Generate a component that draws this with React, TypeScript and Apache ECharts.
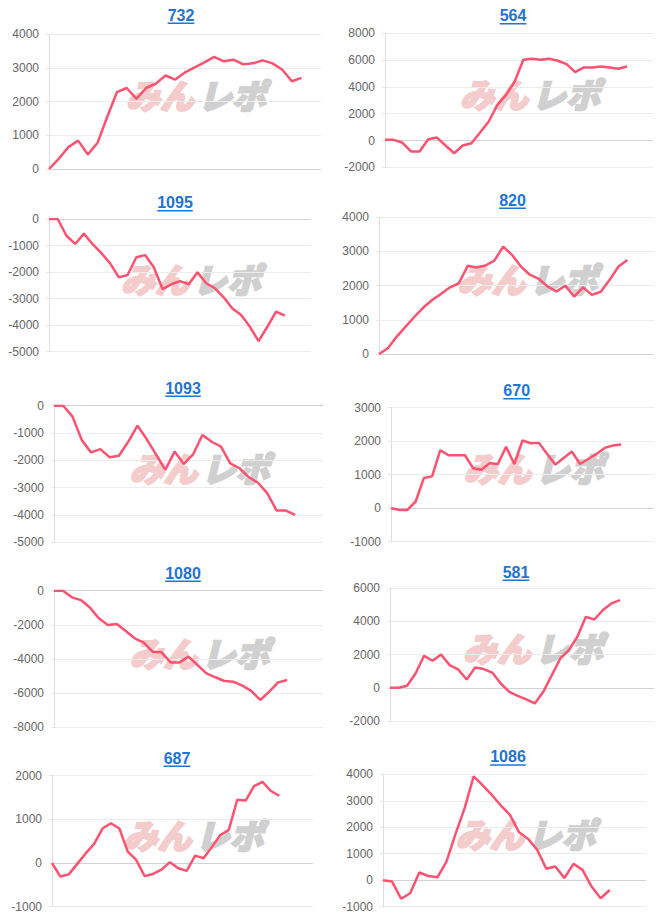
import React, { useEffect, useRef } from "react";
import * as echarts from "echarts";

// ---- data ----
const titles = ["732", "564", "1095", "820", "1093", "670", "1080", "581", "687", "1086"];
const categoryCounts = [29, 32, 31, 32, 30, 33, 31, 32, 32, 30];

const s732 = [0, 300, 650, 840, 430, 780, 1550, 2280, 2400, 2080, 2400, 2530, 2770, 2650, 2860, 3010, 3160, 3320, 3190, 3240, 3100, 3130, 3220, 3130, 2950, 2600, 2700];
const s564 = [50, 50, -150, -820, -820, 100, 220, -370, -950, -370, -200, 600, 1420, 2660, 3400, 4400, 6020, 6100, 6020, 6100, 5950, 5700, 5100, 5450, 5450, 5520, 5450, 5350, 5520];
const s1095 = [0, 0, -630, -940, -550, -950, -1290, -1670, -2200, -2110, -1440, -1360, -1820, -2640, -2460, -2340, -2460, -2010, -2420, -2610, -2950, -3370, -3620, -4060, -4600, -4060, -3490, -3640];
const s820 = [0, 170, 510, 800, 1090, 1360, 1580, 1760, 1950, 2070, 2580, 2530, 2590, 2730, 3140, 2900, 2560, 2320, 2200, 1980, 1830, 2000, 1680, 1950, 1730, 1820, 2170, 2560, 2750];
const s1093 = [0, 0, -400, -1260, -1710, -1590, -1890, -1830, -1320, -730, -1230, -1780, -2350, -1680, -2130, -1780, -1070, -1320, -1500, -2110, -2290, -2620, -2820, -3210, -3840, -3840, -4000];
const s670 = [0, -50, -50, 200, 900, 950, 1730, 1580, 1580, 1580, 1190, 1150, 1340, 1320, 1830, 1320, 2020, 1940, 1950, 1620, 1300, 1500, 1690, 1320, 1470, 1620, 1800, 1870, 1900];
const s1080 = [0, 0, -390, -550, -980, -1620, -2010, -1950, -2360, -2790, -3040, -3570, -3610, -4200, -4200, -3860, -4350, -4840, -5070, -5290, -5330, -5560, -5870, -6400, -5910, -5370, -5230];
const s581 = [0, 0, 120, 860, 1930, 1630, 2010, 1370, 1110, 500, 1230, 1130, 920, 260, -240, -480, -700, -940, -240, 760, 1770, 2270, 3080, 4280, 4120, 4690, 5090, 5290];
const s687 = [0, -310, -260, -20, 220, 440, 790, 910, 790, 260, 70, -300, -250, -150, 20, -120, -180, 170, 110, 370, 640, 760, 1450, 1430, 1760, 1860, 1650, 1540];
const s1086 = [0, -50, -700, -490, 290, 160, 110, 700, 1750, 2720, 3920, 3580, 3220, 2820, 2470, 1810, 1560, 1150, 430, 520, 80, 620, 390, -240, -680, -370];
const seriesValues = [s732, s564, s1095, s820, s1093, s670, s1080, s581, s687, s1086];

const yMins = [0, -2000, -5000, 0, -5000, -1000, -8000, -2000, -1000, -1000];
const yMaxs = [4000, 8000, 0, 4000, 0, 3000, 0, 6000, 2000, 4000];
const yIntervals = [1000, 2000, 1000, 1000, 1000, 1000, 2000, 2000, 1000, 1000];

// ---- layout (pixels) ----
const layout = [
  { l: 49, t: 34, r: 321, b: 169, tx: 181, ty: 15 },
  { l: 385, t: 33.3, r: 653, b: 167.3, tx: 513, ty: 15.5 },
  { l: 49, t: 219, r: 311, b: 351.7, tx: 175, ty: 202.5 },
  { l: 379, t: 217.3, r: 654, b: 354, tx: 512.5, ty: 200 },
  { l: 54, t: 405.7, r: 323, b: 542.3, tx: 183, ty: 388 },
  { l: 391, t: 407.7, r: 654, b: 541.7, tx: 516.7, ty: 390.5 },
  { l: 54, t: 590.7, r: 323, b: 727.3, tx: 183, ty: 573 },
  { l: 390, t: 588.3, r: 654, b: 721, tx: 516, ty: 572 },
  { l: 52, t: 775.7, r: 313, b: 906.7, tx: 177, ty: 758 },
  { l: 383, t: 774.3, r: 646, b: 906.7, tx: 508, ty: 756.7 },
];

const LINE_COLOR = "#ff5270";
const TITLE_COLOR = "#1f74d4";
const TITLE_FONT = 'bold 16px "Liberation Sans", Arial, sans-serif';
const MARK_FONT = 'italic 900 34px "Noto Sans CJK JP", sans-serif';

function measure(text: string, font: string): number {
  const c = document.createElement("canvas");
  const ctx = c.getContext("2d");
  if (!ctx) return text.length * 9;
  ctx.font = font;
  return ctx.measureText(text).width;
}

export default function App() {
  const ref = useRef<HTMLDivElement>(null);

  useEffect(() => {
    if (!ref.current) return;
    const chart = echarts.init(ref.current, undefined, { renderer: "svg" });

    const grids: any[] = [];
    const xAxes: any[] = [];
    const yAxes: any[] = [];
    const series: any[] = [];
    const graphics: any[] = [];

    layout.forEach((g, i) => {
      grids.push({ left: g.l, top: g.t, width: g.r - g.l, height: g.b - g.t, containLabel: false });
      const cats = Array.from({ length: categoryCounts[i] }, (_, k) => String(k + 1));
      xAxes.push({
        type: "category",
        gridIndex: i,
        data: cats,
        boundaryGap: false,
        axisLine: { show: false },
        axisTick: { show: false },
        axisLabel: { show: false },
        splitLine: { show: false },
      });
      const nLines = Math.round((yMaxs[i] - yMins[i]) / yIntervals[i]) + 1;
      const zeroIdx = Math.round((0 - yMins[i]) / yIntervals[i]);
      const colors = Array.from({ length: nLines }, (_, k) => (k === zeroIdx ? "#d2d2d2" : "#ececec"));
      yAxes.push({
        type: "value",
        gridIndex: i,
        min: yMins[i],
        max: yMaxs[i],
        interval: yIntervals[i],
        axisLine: { show: true, lineStyle: { color: "#dedede", width: 1 } },
        axisTick: { show: true, length: 3, lineStyle: { color: "#e6e6e6" } },
        axisLabel: {
          color: "#666",
          fontSize: 12,
          fontFamily: '"Liberation Sans", Arial, sans-serif',
          margin: 10,
          formatter: (v: number) => String(v),
        },
        splitLine: { show: true, lineStyle: { color: colors, width: 1 } },
      });
      series.push({
        type: "line",
        xAxisIndex: i,
        yAxisIndex: i,
        data: seriesValues[i],
        symbol: "none",
        smooth: false,
        lineStyle: { color: LINE_COLOR, width: 2.5 },
        z: 5,
      });

      // watermark
      const cx = (g.l + g.r) / 2 + 12;
      const cy = (g.t + g.b) / 2 - 7;
      graphics.push({
        type: "text",
        x: cx - 3,
        y: cy,
        z: 0,
        silent: true,
        style: {
          text: "みん",
          fill: "#f4cccc",
          stroke: "#f4cccc",
          lineWidth: 2,
          font: MARK_FONT,
          textAlign: "right",
          textVerticalAlign: "middle",
        },
      });
      graphics.push({
        type: "text",
        x: cx + 1,
        y: cy,
        z: 0,
        silent: true,
        style: {
          text: "レポ",
          fill: "#d0d0d0",
          stroke: "#d0d0d0",
          lineWidth: 2,
          font: MARK_FONT,
          textAlign: "left",
          textVerticalAlign: "middle",
        },
      });

      // title + underline
      const w = measure(titles[i], TITLE_FONT);
      graphics.push({
        type: "text",
        x: g.tx,
        y: g.ty,
        style: {
          text: titles[i],
          fill: TITLE_COLOR,
          font: TITLE_FONT,
          textAlign: "center",
          textVerticalAlign: "middle",
        },
      });
      graphics.push({
        type: "rect",
        shape: { x: g.tx - w / 2, y: g.ty + 7.5, width: w, height: 1.5 },
        style: { fill: TITLE_COLOR },
      });
    });

    chart.setOption({
      animation: false,
      backgroundColor: "#ffffff",
      grid: grids,
      xAxis: xAxes,
      yAxis: yAxes,
      series,
      graphic: { elements: graphics },
    });

    return () => {
      chart.dispose();
    };
  }, []);

  return (
    <div
      ref={ref}
      style={{ position: "absolute", left: 0, top: 0, width: 666, height: 922 }}
    />
  );
}
